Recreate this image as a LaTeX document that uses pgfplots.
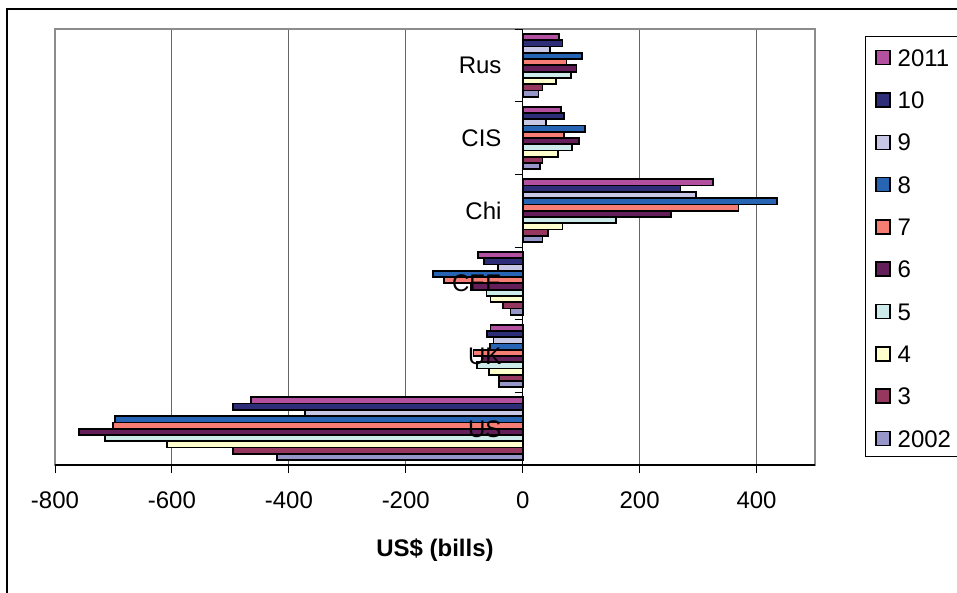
\documentclass[border=0pt]{standalone}
\usepackage{fontspec}
\setmainfont{Liberation Sans}
\usepackage{pgfplots}
\pgfplotsset{compat=1.18}

\newcommand\cf{\fontsize{24}{28}\selectfont}

% series colours
\definecolor{cA}{RGB}{150,150,200} % 2002
\definecolor{cB}{RGB}{150,55,95}   % 3
\definecolor{cC}{RGB}{255,255,205} % 4
\definecolor{cD}{RGB}{205,235,235} % 5
\definecolor{cE}{RGB}{100,30,90}   % 6
\definecolor{cF}{RGB}{245,125,115} % 7
\definecolor{cG}{RGB}{40,100,180}  % 8
\definecolor{cH}{RGB}{200,200,230} % 9
\definecolor{cI}{RGB}{45,45,120}   % 10
\definecolor{cJ}{RGB}{180,80,160}  % 2011

\pgfplotsset{
  bb/.style={xbar, bar width=6.27pt, bar shift=#1, draw=black, /tikz/line width=1.8pt,
    legend image code/.code={\draw[##1, line width=1.5pt] (0.6pt,-7pt) rectangle (14.6pt,7pt);}},
}

\begin{document}
\begin{tikzpicture}
\useasboundingbox (0pt,0pt) rectangle (957pt,592pt);

\begin{axis}[
  at={(55pt,127pt)}, anchor=south west, scale only axis,
  width=760pt, height=436pt,
  xmin=-800, xmax=500, ymin=-0.5, ymax=5.5,
  xtick={-800,-600,-400,-200,0,200,400},
  xticklabels={-800,-600,-400,-200,0,200,400},
  ytick=\empty,
  xtick pos=bottom,
  tick align=outside,
  major tick length=8pt,
  xtick style={black, line width=1pt},
  xmajorgrids, major grid style={black!60, line width=0.9pt},
  axis line style={black!45, line width=1.5pt},
  xticklabel style={font=\cf, inner sep=0pt, anchor=center, yshift=-27pt, text height=17.2pt, text depth=0pt},
  xlabel={\bfseries US\$ (bills)},
  xlabel style={font=\cf, at={(axis description cs:0.5,0)}, anchor=center, yshift=-83pt, inner sep=0pt, text height=17.2pt, text depth=0pt},
  reverse legend, legend cell align=left,
  legend style={at={(1.06579,0.98165)}, anchor=north west, draw=none, fill=none,
    inner xsep=10pt, inner ysep=11.9pt, row sep=25.1pt, column sep=7pt,
    nodes={font=\cf, inner sep=0pt, text height=17.2pt, text depth=0pt}},
]
% categories: 0 US, 1 UK, 2 CEE, 3 Chi, 4 CIS, 5 Rus
\addplot[bb=-28.215pt, fill=cA] coordinates {(-420,0) (-40,1) (-21,2) (34,3) (30,4) (27,5)};
\addplot[bb=-21.945pt, fill=cB] coordinates {(-496,0) (-40,1) (-34,2) (43,3) (34,4) (34,5)};
\addplot[bb=-15.675pt, fill=cC] coordinates {(-608,0) (-58,1) (-55,2) (68,3) (61,4) (57,5)};
\addplot[bb=-9.405pt,  fill=cD] coordinates {(-715,0) (-78,1) (-62,2) (160,3) (85,4) (82,5)};
\addplot[bb=-3.135pt,  fill=cE] coordinates {(-759,0) (-70,1) (-89,2) (253,3) (96,4) (92,5)};
\addplot[bb=3.135pt,   fill=cF] coordinates {(-701,0) (-84,1) (-134,2) (369,3) (71,4) (75,5)};
\addplot[bb=9.405pt,   fill=cG] coordinates {(-697,0) (-56,1) (-154,2) (435,3) (106,4) (102,5)};
\addplot[bb=15.675pt,  fill=cH] coordinates {(-372,0) (-50,1) (-42,2) (297,3) (40,4) (47,5)};
\addplot[bb=21.945pt,  fill=cI] coordinates {(-496,0) (-61,1) (-66,2) (270,3) (71,4) (68,5)};
\addplot[bb=28.215pt,  fill=cJ] coordinates {(-465,0) (-55,1) (-76,2) (325,3) (65,4) (62,5)};
\legend{2002,3,4,5,6,7,8,9,10,2011}
\draw[black, line width=1.5pt] (rel axis cs:0,0) -- (rel axis cs:1,0);
\end{axis}

% category axis at x = 0
\begin{axis}[
  at={(522.69pt,127pt)}, anchor=south west, scale only axis,
  width=292.31pt, height=436pt,
  xmin=0, xmax=500, ymin=-0.5, ymax=5.5,
  axis x line=none, axis y line*=left,
  axis line style={black, line width=1.5pt},
  ytick={0,1,2,3,4,5}, yticklabels={US,UK,CEE,Chi,CIS,Rus},
  minor ytick={-0.5,0.5,1.5,2.5,3.5,4.5,5.5},
  tick align=outside, major tick length=0pt, minor tick length=8pt,
  minor tick style={black, line width=1pt},
  yticklabel style={font=\cf, inner sep=0pt, anchor=east, xshift=-21pt, text height=17.2pt, text depth=0pt},
]
\end{axis}

% legend frame and chart border
\draw[black, line width=1pt] (865pt,135.3pt) rectangle (990pt,555pt);
\draw[black, line width=1.8pt] (7pt,-20pt) rectangle (990pt,583pt);
\end{tikzpicture}
\end{document}
